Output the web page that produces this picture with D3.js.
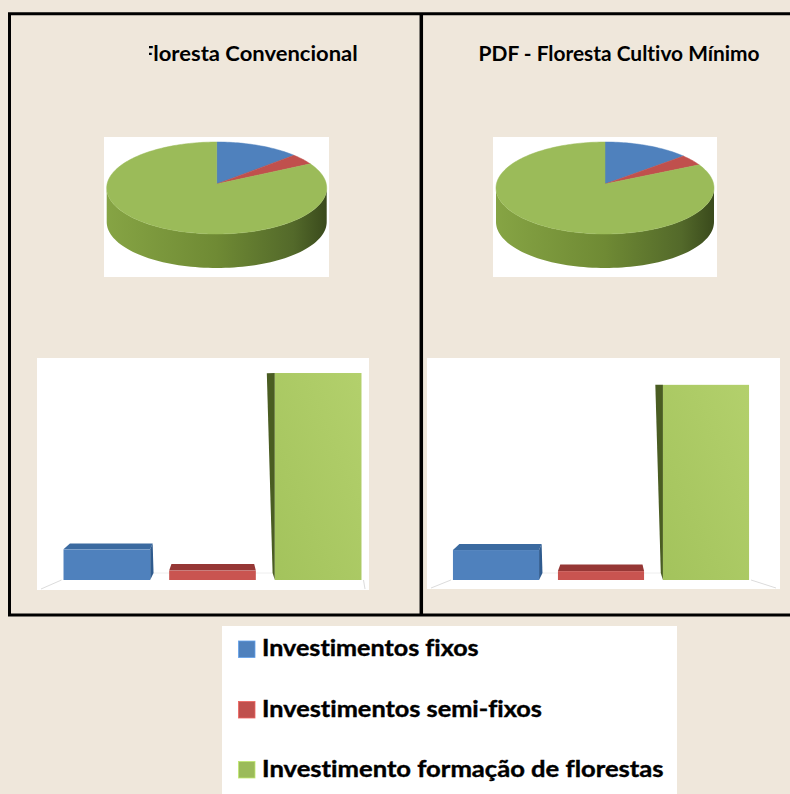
<!DOCTYPE html>
<html><head><meta charset="utf-8">
<script src="https://cdn.jsdelivr.net/npm/d3@7"></script>
<style>html,body{margin:0;padding:0;background:#efe7db;}svg{display:block}text{font-variant-ligatures:none;font-feature-settings:"liga" 0,"clig" 0;}</style>
</head><body>
<svg id="c" width="790" height="794"></svg>
<script>
// ---------------- data ----------------
const categories = ["Investimentos fixos", "Investimentos semi-fixos", "Investimento formação de florestas"];
const panelTitles = ["Floresta Convencional", "PDF - Floresta Cultivo Mínimo"];
const valuesConvencional = [12.4, 3.8, 83.8];
const valuesCultivoMinimo = [12.8, 3.8, 83.4];
const seriesColors = ["#4f81bd", "#c0504d", "#9bbb59"];

// ---------------- layout ----------------
const svg = d3.select("#c");
const defs = svg.append("defs");
const FONT = "Lato, 'Open Sans', 'DejaVu Sans', sans-serif";

svg.append("rect").attr("x", 0).attr("y", 0).attr("width", 790).attr("height", 794).attr("fill", "#efe7db");

const panels = [
  { title: panelTitles[0], values: valuesConvencional, titleX: 141, titleW: 216.7, clipX: 149,
    pieBox: [104, 137, 225, 140], pie: { cx: 216.7, cy: 188, rx: 110, ry: 46, depth: 34 },
    barBox: [37, 358, 332, 232], barRange: [54, 371], yBase: 580, yTop: 333, xc: 225 },
  { title: panelTitles[1], values: valuesCultivoMinimo, titleX: 478.6, titleW: 281, clipX: null,
    pieBox: [493, 137, 224, 140], pie: { cx: 605, cy: 188, rx: 109, ry: 46, depth: 34 },
    barBox: [427, 358, 353, 231], barRange: [443.5, 758.5], yBase: 580, yTop: 346, xc: 615 }
];

// gradients
const sideGrad = defs.append("linearGradient").attr("id", "sideGreen").attr("x1", "0").attr("x2", "1").attr("y1", "0").attr("y2", "0");
sideGrad.append("stop").attr("offset", "0").attr("stop-color", "#86a444");
sideGrad.append("stop").attr("offset", "0.5").attr("stop-color", "#6f8a34");
sideGrad.append("stop").attr("offset", "0.85").attr("stop-color", "#53692a");
sideGrad.append("stop").attr("offset", "1").attr("stop-color", "#3a4a1c");
const sideColorsFlat = ["#3d6494", "#943634", "url(#sideGreen)"];
const topColorsPie = ["#4f81bd", "#c0504d", "#9bbb59"];

const barFront = defs.append("linearGradient").attr("id", "barGreen").attr("x1", "0").attr("x2", "1").attr("y1", "1").attr("y2", "0");
barFront.append("stop").attr("offset", "0").attr("stop-color", "#a3c35c");
barFront.append("stop").attr("offset", "1").attr("stop-color", "#b3d06c");
const barFrontColors = ["#4f81bd", "#c95450", "url(#barGreen)"];
const barTopColors = ["#3b6aa0", "#963735", "#8aab4c"];
const barSideColors = ["#2f5b8e", "#7d2e2c", "#4a5d22"];

panels.forEach((p, pi) => {
  const g = svg.append("g");

  // title
  let tg = g.append("g");
  if (p.clipX !== null) {
    const cid = "clipTitle" + pi;
    defs.append("clipPath").attr("id", cid).append("rect")
      .attr("x", p.clipX).attr("y", 20).attr("width", 400).attr("height", 60);
    tg.attr("clip-path", `url(#${cid})`);
  }
  tg.append("text").attr("x", p.titleX).attr("y", 61)
    .attr("font-family", FONT).attr("font-weight", "bold").attr("font-size", 20)
    .attr("textLength", p.titleW).attr("lengthAdjust", "spacingAndGlyphs")
    .attr("fill", "#000").text(p.title);

  // pie box
  g.append("rect").attr("x", p.pieBox[0]).attr("y", p.pieBox[1]).attr("width", p.pieBox[2]).attr("height", p.pieBox[3]).attr("fill", "#fff");

  // pie (elliptical 3D)
  const { cx, cy, rx, ry, depth } = p.pie;
  const arcs = d3.pie().sort(null).startAngle(0).endAngle(2 * Math.PI)(p.values);
  const pt = (a, dy = 0) => [cx + rx * Math.sin(a), cy - ry * Math.cos(a) + dy];
  const line = d3.line();
  arcs.forEach((d, i) => {
    const a0 = Math.max(d.startAngle, Math.PI / 2), a1 = Math.min(d.endAngle, 3 * Math.PI / 2);
    if (a1 <= a0) return;
    const n = 80, top = [], bot = [];
    for (let k = 0; k <= n; k++) { const a = a0 + (a1 - a0) * k / n; top.push(pt(a)); bot.push(pt(a, depth)); }
    const poly = top.concat(bot.reverse());
    g.append("path").attr("d", line(poly) + "Z").attr("fill", sideColorsFlat[i]);
  });
  arcs.forEach((d, i) => {
    const n = Math.max(8, Math.ceil((d.endAngle - d.startAngle) * 40));
    const poly = [[cx, cy - 4]];
    for (let k = 0; k <= n; k++) poly.push(pt(d.startAngle + (d.endAngle - d.startAngle) * k / n));
    g.append("path").attr("d", line(poly) + "Z").attr("fill", topColorsPie[i])
      .attr("stroke", topColorsPie[i]).attr("stroke-width", 0.5);
  });

  // bar box
  const [bx, by, bw, bh] = p.barBox;
  g.append("rect").attr("x", bx).attr("y", by).attr("width", bw).attr("height", bh).attr("fill", "#fff");

  const x = d3.scaleBand().domain(categories).range(p.barRange).paddingInner(0.18).paddingOuter(0.09);
  const y = d3.scaleLinear().domain([0, 100]).range([p.yBase, p.yTop]);
  const yB = y(0);
  const back = ([px, py]) => [px - 0.045 * (px - p.xc) + 0.028 * (py - yB), py - 7 + 0.035 * (yB - py)];

  // floor lines
  const fl = [x(categories[0]) - 2, yB], fr = [x(categories[2]) + x.bandwidth() + 2, yB];
  g.append("path").attr("d", line([[bx + 4, by + bh - 1], fl])).attr("stroke", "#dcdcdc").attr("fill", "none").attr("stroke-width", 1);
  g.append("path").attr("d", line([[bx + bw - 4, by + bh - 1], fr])).attr("stroke", "#dcdcdc").attr("fill", "none").attr("stroke-width", 1);
  g.append("path").attr("d", line([back(fl), back(fr)])).attr("stroke", "#eeeeee").attr("fill", "none").attr("stroke-width", 1);

  categories.forEach((c, i) => {
    const L = x(c), R = L + x.bandwidth(), T = y(p.values[i]), B = yB;
    const FTL = [L, T], FTR = [R, T], FBR = [R, B], FBL = [L, B];
    const BTL = back(FTL), BTR = back(FTR), BBR = back(FBR), BBL = back(FBL);
    const bg = g.append("g");
    if (BTL[1] < T) bg.append("path").attr("d", line([FTL, FTR, BTR, BTL]) + "Z").attr("fill", barTopColors[i]);
    if (BTR[0] > R) bg.append("path").attr("d", line([FTR, BTR, BBR, FBR]) + "Z").attr("fill", barSideColors[i]);
    if (BTL[0] < L) bg.append("path").attr("d", line([FTL, BTL, BBL, FBL]) + "Z").attr("fill", barSideColors[i]);
    bg.append("rect").attr("x", L).attr("y", T).attr("width", R - L).attr("height", B - T).attr("fill", barFrontColors[i]);
  });
});

// frame
const frame = svg.append("g").attr("fill", "none").attr("stroke", "#000");
frame.append("path").attr("d", "M9.5,615 L9.5,13.8 L800,13.8").attr("stroke-width", 3);
frame.append("path").attr("d", "M8,615 L800,615").attr("stroke-width", 3);
frame.append("path").attr("d", "M421.3,13 L421.3,615").attr("stroke-width", 3.5);

// legend
const lg = svg.append("g");
lg.append("rect").attr("x", 222).attr("y", 626).attr("width", 455).attr("height", 170).attr("fill", "#fff");
const legendBase = [656, 716.5, 776.5];
const legendW = [216.6, 280, 401.6];
categories.forEach((c, i) => {
  lg.append("rect").attr("x", 238.5).attr("y", legendBase[i] - 15).attr("width", 16.5).attr("height", 16.5)
    .attr("fill", seriesColors[i]).attr("stroke", d3.color(seriesColors[i]).brighter(0.6)).attr("stroke-width", 0.8);
  lg.append("text").attr("x", 262).attr("y", legendBase[i])
    .attr("font-family", FONT).attr("font-weight", "bold").attr("font-size", 22)
    .attr("textLength", legendW[i]).attr("lengthAdjust", "spacingAndGlyphs")
    .attr("stroke", "#000").attr("stroke-width", 0.4)
    .attr("fill", "#000").text(c);
});
</script>
</body></html>
